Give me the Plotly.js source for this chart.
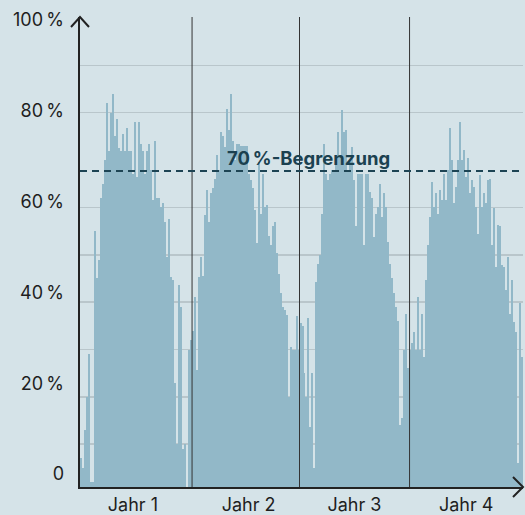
<!DOCTYPE html>
<html>
<head>
<meta charset="utf-8">
<script src="https://cdn.plot.ly/plotly-3.0.1.min.js"></script>
<style>html,body{margin:0;padding:0;background:#d5e3e8;}#chart{width:525px;height:515px;}</style>
</head>
<body>
<div id="chart"></div>
<script>
// Share of capacity (%) per ~3-day period over four years
const year1Values = [7,5,13,20,29,2,2,55,45,49,62,65,70,82,72,80,84,75,78.6,72.5,72,75.5,72,76.7,72,72,67,78,66.5,78,73.5,72,67,72,73.5,68,61.5,
  74,62,62,60,61,57,49.6,57.5,45.4,44.7,23,10,43.6,39,9,10,1,30,32];
const year2Values = [34,41,25.6,45.4,49.6,45.5,58.4,63.7,57,63,64,66,71,68,76,75,72.8,80.7,
  76.3,84,74,70,73.5,73.5,73,73,73,73,67,65.8,64,59.5,52.4,69.7,58.7,67,60,60.5,54,52,56,57,50.3,46,42,39,38.3,37.3,20,30.6,30,30,37,30];
const year3Values = [35.5,35,
  25,20,36.6,13.7,25,5,44.3,48,50,58.7,73.5,67,65.8,67,68,68,69.7,76,70.7,80.5,76,76.3,68,70,72.8,65.8,56,67,67,67,52,67,67,63.3,62,53.8,58.7,
  60,65,58,63,60,52.8,48,45,42,39,36,14,15.5,30,37.6];
const year4Values = [26,30,31.3,33.8,30,41,30,37.6,28.5,44.7,52,58,65.4,60,63,58.7,63.7,61.5,67,61.5,68,76.7,
  70,60.9,64.4,70,78,70,72.1,66.5,70.4,63,65.8,64.4,60,54.4,66.8,60,63,60.9,65.8,66,52,59.8,47.5,56.3,56,47.8,47.5,42.5,49.6,37.6,44.7,35.9,33.8,6,39.8,28.5];

const yearLabels = ["Jahr 1", "Jahr 2", "Jahr 3", "Jahr 4"];
const yearLabelPos = [26, 84, 137, 193];
const yearBoundaries = [55.65, 109.5, 164.65];
const limitValue = 67.7;
const limitLabel = "70\u202f%-Begrenzung";
const gridValues = [10, 20, 30, 40, 50, 60, 80, 90, 100];
const yTickValues = [0, 20, 40, 60, 80, 100];
const yTickText = ["0", "20\u202f%", "40\u202f%", "60\u202f%", "80\u202f%", "100\u202f%"];

const values = [].concat(year1Values, year2Values, year3Values, year4Values);
const xs = values.map((_, i) => i);

const FONT = "Inter, 'Noto Sans', sans-serif";
const textColor = "#1e1e1e";

const traces = [
  {
    type: "bar", x: xs, y: values,
    marker: { color: "#92b8c8", line: { width: 0 } },
    hoverinfo: "skip", showlegend: false
  },
  {
    type: "scatter", x: [0], y: [-50], yaxis: "y2", mode: "markers",
    marker: { opacity: 0 }, hoverinfo: "skip", showlegend: false
  }
];

const shapes = yearBoundaries.map(b => ({
  type: "line", xref: "x", yref: "paper", x0: b, x1: b, y0: 0, y1: 1,
  line: { color: "#333333", width: 1 }, layer: "above"
}));
shapes.push({
  type: "line", xref: "paper", yref: "y", x0: 0, x1: 1, y0: limitValue, y1: limitValue,
  line: { color: "#1d4454", width: 2, dash: "7px,5px" }, layer: "above"
});
shapes.push({
  type: "path", xref: "paper", yref: "paper", xsizemode: "pixel", ysizemode: "pixel",
  xanchor: 0, yanchor: 1, path: "M-9,-10 L0,0 L9,-10",
  line: { color: "#222222", width: 2 }, layer: "above"
});
shapes.push({
  type: "path", xref: "paper", yref: "paper", xsizemode: "pixel", ysizemode: "pixel",
  xanchor: 1, yanchor: 0, path: "M-10,10 L0,0 L-10,-10",
  line: { color: "#222222", width: 2 }, layer: "above"
});

const layout = {
  width: 525, height: 515,
  margin: { l: 80, r: 2, t: 17, b: 28, pad: 0 },
  paper_bgcolor: "#d5e3e8", plot_bgcolor: "#d5e3e8",
  bargap: 0,
  font: { family: FONT, color: textColor, size: 18 },
  xaxis: {
    range: [-0.5, values.length - 0.5], showgrid: false, zeroline: false,
    showline: true, linecolor: "#222222", linewidth: 2,
    tickmode: "array", tickvals: yearLabelPos, ticktext: yearLabels,
    ticks: "", ticklabelstandoff: 0, automargin: false,
    tickfont: { family: FONT, size: 18, color: textColor }, fixedrange: true
  },
  yaxis: {
    range: [0.97, 100.21], tickmode: "array", tickvals: gridValues,
    showticklabels: false, ticks: "", showgrid: true, gridcolor: "#b9c6cb", gridwidth: 1.5,
    zeroline: false, showline: true, linecolor: "#222222", linewidth: 2,
    automargin: false, fixedrange: true
  },
  yaxis2: {
    overlaying: "y", side: "left", range: [-2.86, 100.66],
    tickmode: "array", tickvals: yTickValues, ticktext: yTickText,
    showgrid: false, zeroline: false, showline: false, ticks: "",
    ticklabelstandoff: 15, automargin: false,
    tickfont: { family: FONT, size: 18, color: textColor }, fixedrange: true
  },
  shapes: shapes,
  annotations: [{
    xref: "x", yref: "y", x: 113.8, y: limitValue, yanchor: "bottom", yshift: 0,
    text: "<b>" + limitLabel + "</b>", showarrow: false,
    font: { family: FONT, size: 18.5, color: "#1b4150" }
  }],
  showlegend: false
};

Plotly.newPlot("chart", traces, layout, { staticPlot: true, displayModeBar: false });
</script>
</body>
</html>
